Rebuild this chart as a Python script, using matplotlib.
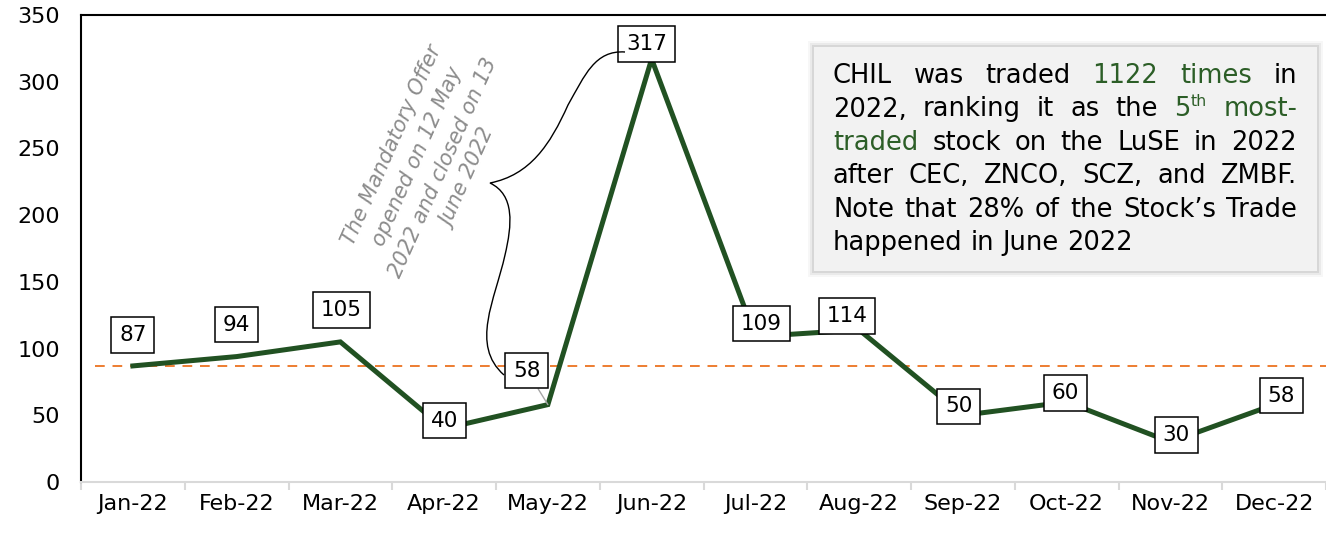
import matplotlib.pyplot as plt
from matplotlib.path import Path
from matplotlib.patches import PathPatch, Rectangle

months = ['Jan-22', 'Feb-22', 'Mar-22', 'Apr-22', 'May-22', 'Jun-22',
          'Jul-22', 'Aug-22', 'Sep-22', 'Oct-22', 'Nov-22', 'Dec-22']
trades = [87, 94, 105, 40, 58, 317, 109, 114, 50, 60, 30, 58]
ref_level = 87

# label offsets from each point, in pixels (dx right, dy up)
label_off = [(0, 31), (0, 32), (1, 32), (0, 8), (-21, 34), (-5, 15),
             (6, 13), (-12, 14), (-4, 9), (-1, 9), (6, 7), (7, 9)]
leader = [False, False, False, False, True, False,
          True, False, False, False, False, False]

W, H = 1326, 553
GREEN = '#215122'
TXT_GREEN = '#2c5e27'
plt.rcParams['font.family'] = ['DejaVu Sans']

fig = plt.figure(figsize=(W / 100, H / 100), dpi=100)
ax = fig.add_axes([81 / W, 71 / H, 1 - 81 / W, 467 / H])

x = list(range(len(months)))
ax.plot(x, trades, color=GREEN, lw=3.6, solid_joinstyle='miter', zorder=3)
ax.axhline(ref_level, xmin=0.011, xmax=1, color='#ED7D31', lw=1.4,
           dashes=(5, 4), zorder=2)

for i, v in enumerate(trades):
    dx, dy = label_off[i]
    ap = None
    if leader[i]:
        ap = dict(arrowstyle='-', color='#a6a6a6', lw=1, shrinkA=0, shrinkB=0)
    ax.annotate(str(v), xy=(i, v), xytext=(dx, dy), textcoords='offset pixels',
                ha='center', va='center', fontsize=15.5, zorder=5,
                bbox=dict(boxstyle='square,pad=0.36', fc='white', ec='black', lw=1.1),
                arrowprops=ap)

ax.set_xlim(-0.5, 11.41)
ax.set_ylim(0, 350)
ax.set_yticks(range(0, 351, 50))
ax.set_xticks(x)
ax.set_xticklabels(months)
ax.set_xticks([i - 0.5 for i in range(13)], minor=True)
ax.tick_params(axis='y', length=0, pad=15, labelsize=16)
ax.tick_params(axis='x', which='major', length=0, pad=9, labelsize=16)
ax.tick_params(axis='x', which='minor', length=6, color='#d9d9d9', width=1.5)
for s in ['left', 'top']:
    ax.spines[s].set_color('black')
    ax.spines[s].set_linewidth(1.5)
ax.spines['bottom'].set_color('#d9d9d9')
ax.spines['bottom'].set_linewidth(1.5)
ax.spines['right'].set_visible(False)


def fx(px):
    return px / W


def fy(py):
    return 1 - py / H


# rotated note and brace
fig.text(fx(430), fy(162), 'The Mandatory Offer\nopened on 12 May\n2022 and closed on 13\nJune 2022',
         rotation=66, ha='center', va='center', rotation_mode='anchor',
         fontsize=15, style='italic', color='#8c8c8c', linespacing=1.5,
         multialignment='center')

brace = [(625, 52), (595, 50), (585, 75), (568, 105),
         (550, 145), (530, 175), (490, 183),
         (515, 195), (512, 225), (505, 255),
         (495, 300), (470, 345), (504, 375)]
codes = [Path.MOVETO] + [Path.CURVE4] * 12
bp = Path([(fx(a), fy(b)) for a, b in brace], codes)
fig.patches.append(PathPatch(bp, fc='none', ec='black', lw=1,
                             transform=fig.transFigure, figure=fig))

# text box with shadow
bx0, by0, bx1, by1 = 814, 47, 1317, 271
for k, a in [(6, 0.03), (4, 0.05), (2, 0.08)]:
    fig.patches.append(Rectangle((fx(bx0 - k), fy(by1 + k)), (bx1 - bx0 + 2 * k) / W,
                                 (by1 - by0 + 2 * k) / H, transform=fig.transFigure,
                                 fc='black', ec='none', alpha=a, figure=fig))
fig.patches.append(Rectangle((fx(bx0), fy(by1)), (bx1 - bx0) / W, (by1 - by0) / H,
                             transform=fig.transFigure, fc='#f2f2f2', ec='none',
                             figure=fig))

K = 'black'
G = TXT_GREEN
box_lines = [
    [[('CHIL', K)], [('was', K)], [('traded', K)], [('1122', G)],
     [('times', G)], [('in', K)]],
    [[('2022,', K)], [('ranking', K)], [('it', K)], [('as', K)], [('the', K)],
     [('5', G), ('th', G, 'sup')], [('most-', G)]],
    [[('traded', G)], [('stock', K)], [('on', K)], [('the', K)], [('LuSE', K)],
     [('in', K)], [('2022', K)]],
    [[('after', K)], [('CEC,', K)], [('ZNCO,', K)], [('SCZ,', K)], [('and', K)],
     [('ZMBF.', K)]],
    [[('Note', K)], [('that', K)], [('28%', K)], [('of', K)], [('the', K)],
     [('Stock\u2019s', K)], [('Trade', K)]],
    [[('happened', K)], [('in', K)], [('June', K)], [('2022', K)]],
]
fs = 18.5
tx0, tx1 = 833, 1297
base0, step = 83, 33.5
r = fig.canvas.get_renderer()

for li, words in enumerate(box_lines):
    yb = base0 + li * step
    arts = []
    widths = []
    for w in words:
        parts = []
        wsum = 0
        for p in w:
            sup = len(p) > 2
            t = fig.text(0, fy(yb - (10 if sup else 0)), p[0], color=p[1],
                         fontsize=fs * (0.62 if sup else 1), va='baseline', ha='left')
            ww = t.get_window_extent(r).width
            parts.append((t, wsum))
            wsum += ww
        arts.append(parts)
        widths.append(wsum)
    last = li == len(box_lines) - 1
    if last:
        gap = fig.text(0, 0, ' ', fontsize=fs).get_window_extent(r).width
    else:
        gap = (tx1 - tx0 - sum(widths)) / (len(words) - 1)
    cur = tx0
    for parts, ww in zip(arts, widths):
        for t, off in parts:
            t.set_x(fx(cur + off))
        cur += ww + gap

fig.savefig('out.png', dpi=100)
